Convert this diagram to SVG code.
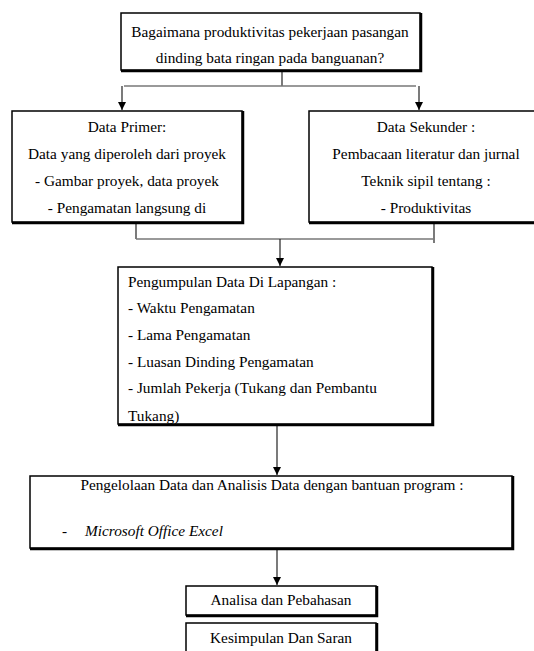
<svg xmlns="http://www.w3.org/2000/svg" width="534" height="651" viewBox="0 0 534 651">
<style>
.box{fill:#fff;stroke:#000;stroke-width:1.5}
.sh{fill:none;stroke:#000;stroke-width:2.5}
text{font-family:'Liberation Serif','Times New Roman','DejaVu Serif',serif;font-size:15.3px;fill:#000}
.c{text-anchor:middle}
.i{font-style:italic}
.ln{fill:none;stroke:#222;stroke-width:1.2}
.lg{fill:none;stroke:#777;stroke-width:1.5}
</style>
<defs>
<marker id="ah" viewBox="0 0 8 10" refX="8" refY="5" markerWidth="8" markerHeight="10" markerUnits="userSpaceOnUse" orient="auto">
<path d="M0,1 L8,5 L0,9 Z" fill="#000"/>
</marker>
<clipPath id="cl1"><rect x="12" y="111" width="231" height="112"/></clipPath>
<clipPath id="cl2"><rect x="118" y="267" width="315" height="158"/></clipPath>
</defs>
<g id="connectors">
<path class="ln" d="M282,71 V86"/>
<path class="lg" d="M124,86 H416"/>
<path class="ln" d="M122,86 V110" marker-end="url(#ah)"/>
<path class="ln" d="M419,86 V110" marker-end="url(#ah)"/>
<path class="ln" d="M136,223 V239"/>
<path class="lg" d="M136,239 H433"/>
<path class="ln" d="M434,223 V243"/>
<path class="ln" d="M280,239 V266" marker-end="url(#ah)"/>
<path class="ln" d="M277,425 V475" marker-end="url(#ah)"/>
<path class="ln" d="M277,549 V585" marker-end="url(#ah)"/>
</g>
<g id="n1">
<rect class="box" x="121" y="13" width="299" height="57"/>
<path class="sh" d="M421,13 V71 H121"/>
<text class="c" x="270" y="37">Bagaimana produktivitas pekerjaan pasangan</text>
<text class="c" x="270" y="63">dinding bata ringan pada banguanan?</text>
</g>
<g id="n2">
<rect class="box" x="12" y="111" width="230" height="111"/>
<path class="sh" d="M243,111 V223 H12"/>
<g clip-path="url(#cl1)">
<text class="c" x="127" y="132">Data Primer:</text>
<text class="c" x="127" y="159">Data yang diperoleh dari proyek</text>
<text class="c" x="127" y="186">- Gambar proyek, data proyek</text>
<text class="c" x="127" y="213">- Pengamatan langsung di</text>
</g>
</g>
<g id="n3">
<rect class="box" x="309" y="111" width="240" height="111"/>
<path class="sh" d="M309,223 H549"/>
<text class="c" x="426" y="132">Data Sekunder :</text>
<text class="c" x="426" y="159">Pembacaan literatur dan jurnal</text>
<text class="c" x="426" y="186">Teknik sipil tentang :</text>
<text class="c" x="426" y="213">- Produktivitas</text>
</g>
<g id="n4">
<rect class="box" x="118" y="267" width="314" height="157"/>
<path class="sh" d="M433,267 V425 H118"/>
<g clip-path="url(#cl2)">
<text x="128" y="287">Pengumpulan Data Di Lapangan :</text>
<text x="128" y="313">- Waktu Pengamatan</text>
<text x="128" y="340">- Lama Pengamatan</text>
<text x="128" y="367">- Luasan Dinding Pengamatan</text>
<text x="128" y="393">- Jumlah Pekerja (Tukang dan Pembantu</text>
<text x="128" y="421">Tukang)</text>
</g>
</g>
<g id="n5">
<rect class="box" x="30" y="476" width="482" height="72"/>
<path class="sh" d="M513,476 V549 H30"/>
<text class="c" x="272" y="490">Pengelolaan Data dan Analisis Data dengan bantuan program :</text>
<text x="62" y="536">-</text>
<text class="i" x="85" y="536">Microsoft Office Excel</text>
</g>
<g id="n6">
<rect class="box" x="186" y="586" width="190" height="29"/>
<path class="sh" d="M377,586 V616 H186"/>
<text class="c" x="281" y="605">Analisa dan Pebahasan</text>
</g>
<g id="n7">
<rect class="box" x="186" y="623" width="190" height="40"/>
<path class="sh" d="M377,623 V663"/>
<text class="c" x="281" y="643">Kesimpulan Dan Saran</text>
</g>
</svg>
